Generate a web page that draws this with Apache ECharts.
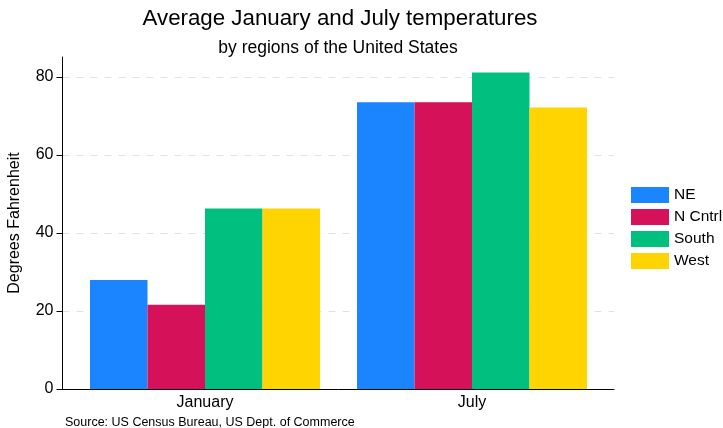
<!DOCTYPE html>
<html>
<head>
<meta charset="utf-8">
<script src="https://cdn.jsdelivr.net/npm/echarts@6/dist/echarts.min.js"></script>
<style>
html,body{margin:0;padding:0;background:#fff;}
#c{width:723px;height:428px;}
</style>
</head>
<body>
<div id="c"></div>
<script>
var categories = ['January', 'July'];
var seriesNames = ['NE', 'N Cntrl', 'South', 'West'];
var NE = [27.9, 73.4];
var NCntrl = [21.6, 73.4];
var South = [46.2, 81.0];
var West = [46.2, 72.1];
var yTickStep = 20;
var yTop = 85;
var colors = ['#1a85ff', '#d41159', '#00bf7f', '#ffd400'];

var FONT = '"Liberation Sans", Arial, sans-serif';
var chart = echarts.init(document.getElementById('c'), null, {renderer: 'canvas'});
var values = [NE, NCntrl, South, West];

var option = {
  backgroundColor: '#ffffff',
  animation: false,
  textStyle: {fontFamily: FONT},
  title: [
    {text: 'Average January and July temperatures', left: 335, top: 3, textAlign: 'center',
     textStyle: {fontFamily: FONT, fontSize: 22.3, fontWeight: 'normal', color: '#000'}},
    {text: 'by regions of the United States', left: 333, top: 34, textAlign: 'center',
     textStyle: {fontFamily: FONT, fontSize: 17.5, fontWeight: 'normal', color: '#000'}},
    {text: 'Source: US Census Bureau, US Dept. of Commerce', left: 60, top: 411,
     textStyle: {fontFamily: FONT, fontSize: 12.5, fontWeight: 'normal', color: '#000'}}
  ],
  legend: {
    orient: 'vertical', left: 626, top: 182,
    itemWidth: 38, itemHeight: 16, itemGap: 6,
    icon: 'rect',
    data: seriesNames,
    textStyle: {fontFamily: FONT, fontSize: 15.5, color: '#000'}
  },
  grid: [
    {left: 62.5, right: 109, top: 77, bottom: 39, containLabel: false, outerBoundsMode: 'none'},
    {left: 71.5, right: 117.5, top: 57, bottom: 39, containLabel: false, outerBoundsMode: 'none'}
  ],
  xAxis: [
    {type: 'category', gridIndex: 0, data: categories,
     axisLine: {show: true, lineStyle: {color: '#000', width: 1}},
     axisTick: {show: false}, axisLabel: {show: false}, splitLine: {show: false}},
    {type: 'category', gridIndex: 1, data: categories,
     axisLine: {show: false}, axisTick: {show: false},
     axisLabel: {show: true, fontFamily: FONT, fontSize: 16, color: '#000', margin: 6}}
  ],
  yAxis: [
    {type: 'value', gridIndex: 0, min: 0, max: 80, interval: yTickStep,
     axisLine: {show: false},
     axisTick: {show: true, length: 6, lineStyle: {color: '#000'}},
     axisLabel: {fontFamily: FONT, fontSize: 16, color: '#000', margin: 9},
     splitLine: {show: true, lineStyle: {color: '#e2e2e2', type: [7, 7], width: 1}}},
    {type: 'value', gridIndex: 1, min: 0, max: yTop, offset: 9,
     axisLine: {show: true, lineStyle: {color: '#000', width: 1}},
     axisTick: {show: false}, axisLabel: {show: false}, splitLine: {show: false},
     name: 'Degrees Fahrenheit', nameLocation: 'middle', nameGap: 40, nameRotate: 90,
     nameTextStyle: {fontFamily: FONT, fontSize: 16, color: '#000'}}
  ],
  series: seriesNames.map(function (n, i) {
    return {
      name: n, type: 'bar', xAxisIndex: 1, yAxisIndex: 1,
      data: values[i], barWidth: 57.5, barGap: '0%',
      itemStyle: {color: colors[i]}
    };
  })
};
chart.setOption(option);
</script>
</body>
</html>
